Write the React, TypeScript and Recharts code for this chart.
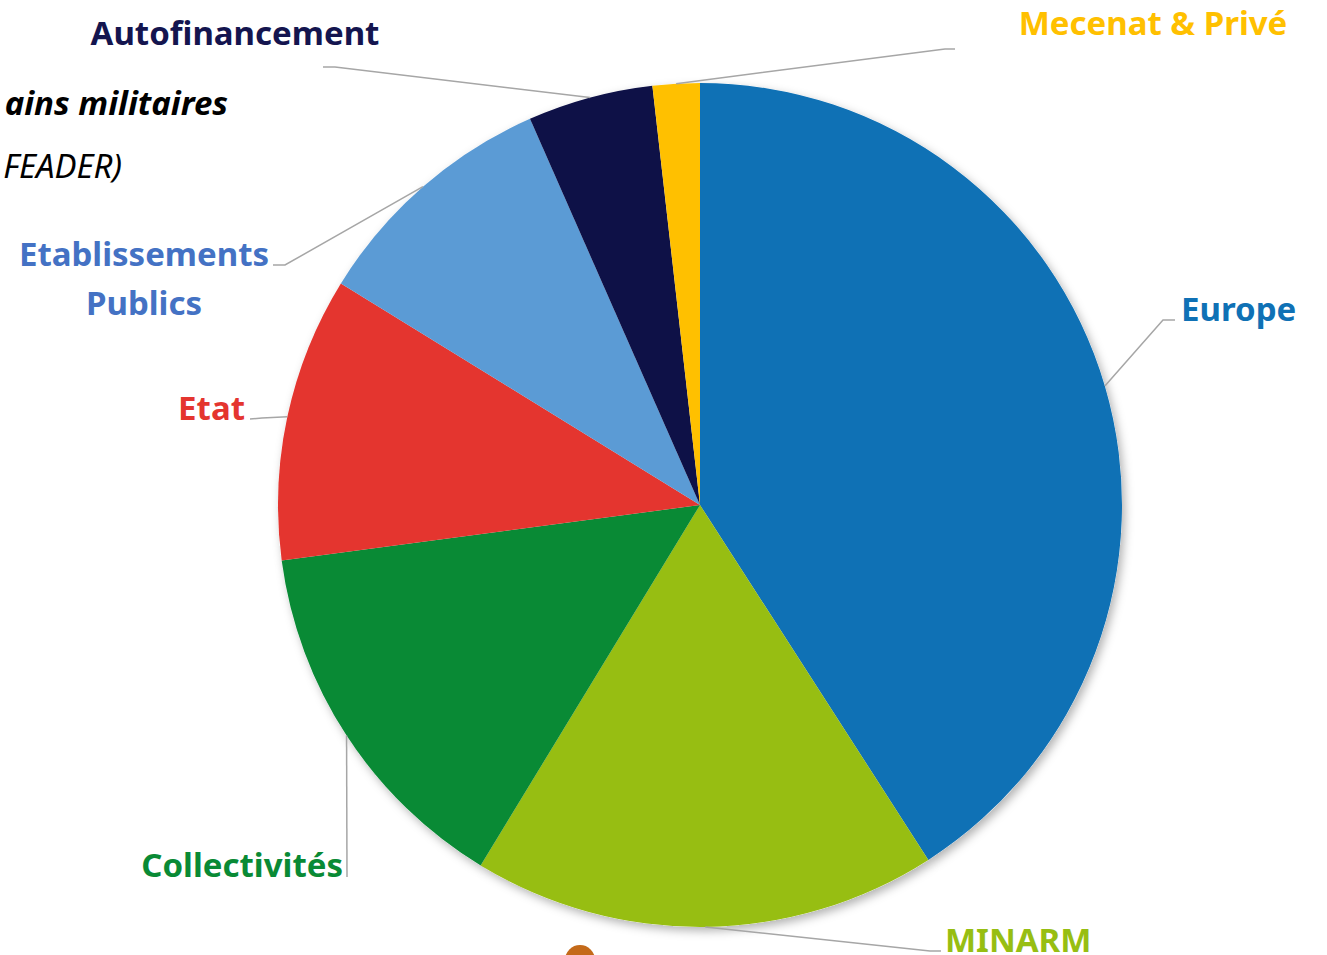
import React from "react";
import { PieChart, Pie, Cell } from "recharts";

const categories = ["Europe", "MINARM", "Collectivités", "Etat", "Etablissements Publics", "Autofinancement", "Mecenat & Privé"];
const shares = [40.9, 17.8, 14.2, 10.9, 9.6, 4.8, 1.8];
const sliceColors = ["#0F71B5", "#97BE12", "#098A35", "#E4352F", "#5B9BD5", "#0E1147", "#FFC000"];
const labelColors = ["#0F71B5", "#97BE12", "#098A35", "#E4352F", "#4472C4", "#14154F", "#FFC000"];
const labelLines = [["Europe"], ["MINARM"], ["Collectivités"], ["Etat"], ["Etablissements", "Publics"], ["Autofinancement"], ["Mecenat & Privé"]];

const data = categories.map((name, i) => ({ name, value: shares[i] }));

// label layout: elbow point, line end, text anchor point, anchor
const layout = [
  { elbow: [1163, 320], end: [1175, 320], text: [1181, 308], anchor: "start" },
  { elbow: [930, 951], end: [941, 951], text: [945, 939], anchor: "start" },
  { elbow: [347, 877], end: [347, 877], text: [343, 864], anchor: "end" },
  { elbow: [262, 418], end: [250, 419], text: [245, 407], anchor: "end" },
  { elbow: [285, 265], end: [273, 265], text: [144, 253], anchor: "middle" },
  { elbow: [335, 67], end: [323, 67], text: [235, 32], anchor: "middle" },
  { elbow: [945, 49], end: [955, 49], text: [1153, 22], anchor: "middle" },
];

const FONT = "'Noto Sans', Lato, sans-serif";
const RAD = Math.PI / 180;

const renderLabel = (props: any) => {
  const { cx, cy, midAngle, outerRadius, index } = props;
  const ax = cx + outerRadius * Math.cos(-midAngle * RAD);
  const ay = cy + outerRadius * Math.sin(-midAngle * RAD);
  const l = layout[index];
  const lines = labelLines[index];
  return (
    <g key={`lbl-${index}`}>
      <polyline
        points={`${ax},${ay} ${l.elbow[0]},${l.elbow[1]} ${l.end[0]},${l.end[1]}`}
        fill="none"
        stroke="#A6A6A6"
        strokeWidth={1.5}
      />
      {lines.map((t, j) => (
        <text
          key={j}
          x={l.text[0]}
          y={l.text[1] + j * 49}
          textAnchor={l.anchor as any}
          dominantBaseline="central"
          fill={labelColors[index]}
          fontFamily={FONT}
          fontWeight={700}
          fontSize={33}
        >
          {t}
        </text>
      ))}
    </g>
  );
};

export default function App() {
  return (
    <div style={{ position: "absolute", left: 0, top: 0, width: 1327, height: 955, background: "#fff", overflow: "hidden" }}>
      <div style={{ position: "absolute", left: -172, top: 83, width: 400, textAlign: "right", fontFamily: FONT, fontSize: 33, fontWeight: 700, fontStyle: "italic", color: "#000", whiteSpace: "nowrap", lineHeight: "40px" }}>
        ains militaires
      </div>
      <div style={{ position: "absolute", left: -278, top: 146, width: 400, textAlign: "right", fontFamily: FONT, fontSize: 33, fontWeight: 400, fontStyle: "italic", color: "#000", whiteSpace: "nowrap", lineHeight: "40px" }}>
        {"FEADER)"}
      </div>
      <div style={{ position: "absolute", left: 565, top: 945, width: 30, height: 30, borderRadius: 15, background: "#C46A1A" }} />
      <PieChart width={1327} height={955} margin={{ top: 0, right: 0, bottom: 0, left: 0 }} style={{ position: "absolute", left: 0, top: 0 }}>
        <defs>
          <filter id="pieShadow" x="-10%" y="-10%" width="130%" height="130%">
            <feDropShadow dx="3" dy="4" stdDeviation="5" floodColor="#000" floodOpacity="0.3" />
          </filter>
        </defs>
        <Pie
          data={data}
          dataKey="value"
          nameKey="name"
          cx={700}
          cy={505}
          outerRadius={422}
          startAngle={90}
          endAngle={-270}
          stroke="none"
          isAnimationActive={false}
          labelLine={false}
          label={false}
          style={{ filter: "url(#pieShadow)" }}
        >
          {data.map((d) => (
            <Cell key={d.name} fill="#ffffff" />
          ))}
        </Pie>
        <Pie
          data={data}
          dataKey="value"
          nameKey="name"
          cx={700}
          cy={505}
          outerRadius={422}
          startAngle={90}
          endAngle={-270}
          stroke="none"
          isAnimationActive={false}
          labelLine={false}
          label={renderLabel}
        >
          {data.map((d, i) => (
            <Cell key={d.name} fill={sliceColors[i]} />
          ))}
        </Pie>
      </PieChart>
    </div>
  );
}
